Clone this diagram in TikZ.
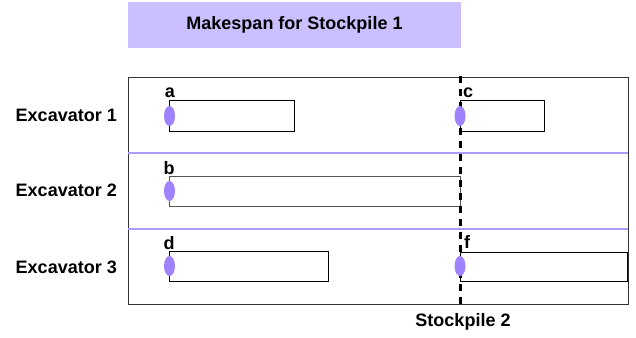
\documentclass[tikz,border=0pt]{standalone}
\usepackage{fontspec}
\setmainfont{Liberation Sans}
\definecolor{titlefill}{RGB}{204,191,255}
\definecolor{rowline}{RGB}{170,155,255}
\definecolor{dotfill}{RGB}{160,130,255}
\definecolor{bargray}{RGB}{85,85,85}
\tikzset{
  lbl/.style={font=\bfseries\fontsize{18}{20}\selectfont, inner sep=0pt},
  bar/.style={draw=black, line width=1pt, fill=white, inner sep=0pt, outer sep=0pt, anchor=north west},
  dot/.style={fill=dotfill},
  rowsep/.style={draw=rowline, line width=1.2pt},
}
\begin{document}
\begin{tikzpicture}[x=1pt,y=-1pt]
\useasboundingbox (0,0) rectangle (636,337);
% title
\node[fill=titlefill, minimum width=333pt, minimum height=46pt, inner sep=0pt, anchor=north west] (title) at (128,2) {};
\node[lbl] (titletext) at (294.5,25) {Makespan for Stockpile 1};
% frame
\node[draw=black!80, line width=1.4pt, minimum width=500pt, minimum height=227pt, inner sep=0pt, anchor=north west] (frame) at (128,77) {};
% row separators
\coordinate (s1l) at (128,153); \coordinate (s1r) at (628,153);
\coordinate (s2l) at (128,229); \coordinate (s2r) at (628,229);
\draw[rowsep] (s1l) -- (s1r);
\draw[rowsep] (s2l) -- (s2r);
% bars
\node[bar, minimum width=125pt, minimum height=31pt] (barA) at (169,100) {};
\node[bar, minimum width=84pt, minimum height=31pt] (barC) at (460,100) {};
\node[bar, draw=bargray, minimum width=291pt, minimum height=30pt] (barB) at (169,176) {};
\node[bar, minimum width=159pt, minimum height=30pt] (barD) at (169,251) {};
\node[bar, minimum width=167pt, minimum height=29pt] (barF) at (460,252) {};
% dashed stockpile line
\coordinate (dtop) at (460,76);
\coordinate (dbot) at (460,306);
\draw[line width=3pt, dash pattern=on 7pt off 6pt] (dtop) -- (dbot);
% dots
\fill[dot] (169.5,116) ellipse [x radius=5.5pt, y radius=10pt];
\fill[dot] (169.5,191) ellipse [x radius=5.5pt, y radius=10pt];
\fill[dot] (460,116) ellipse [x radius=5.5pt, y radius=10pt];
\fill[dot] (169.5,266) ellipse [x radius=5.5pt, y radius=10pt];
\fill[dot] (460,266) ellipse [x radius=5.5pt, y radius=10pt];
% bar labels
\node[lbl, anchor=base] (la) at (170,97) {a};
\node[lbl, anchor=base] (lb) at (169,174) {b};
\node[lbl, anchor=base] (lc) at (468,97) {c};
\node[lbl, anchor=base] (ld) at (169,249) {d};
\node[lbl, anchor=base] (lf) at (467,248) {f};
% row labels
\node[lbl, anchor=east] (e1) at (117,115) {Excavator 1};
\node[lbl, anchor=east] (e2) at (117,190) {Excavator 2};
\node[lbl, anchor=east] (e3) at (117,267) {Excavator 3};
\node[lbl] (sp2) at (463,322) {Stockpile 2};
\end{tikzpicture}
\end{document}
